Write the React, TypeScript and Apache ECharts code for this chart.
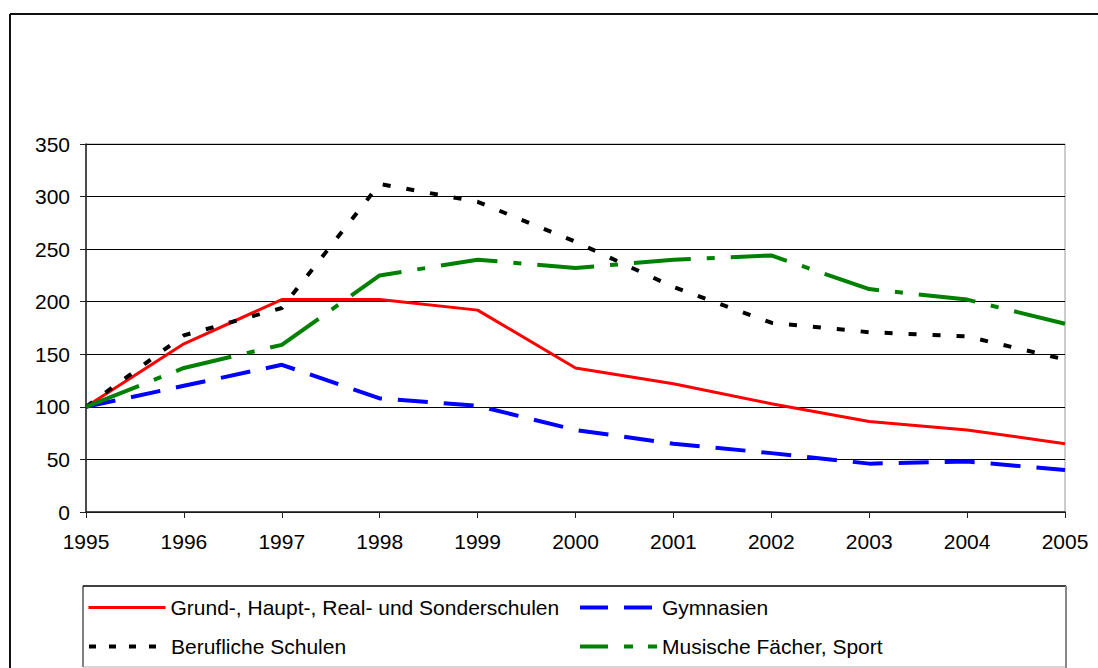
import React, { useEffect, useRef } from "react";
import * as echarts from "echarts";

const years = ["1995", "1996", "1997", "1998", "1999", "2000", "2001", "2002", "2003", "2004", "2005"];
const grundschulen = [100, 160, 202, 202, 192, 137, 122, 103, 86, 78, 65];
const gymnasien = [100, 120, 140, 108, 101, 78, 65, 56, 46, 48, 40];
const beruflich = [100, 168, 194, 312, 295, 257, 214, 180, 171, 167, 145];
const musisch = [100, 137, 159, 225, 240, 232, 240, 244, 212, 202, 179];

const names = [
  "Grund-, Haupt-, Real- und Sonderschulen",
  "Gymnasien",
  "Berufliche Schulen",
  "Musische Fächer, Sport",
];

const FONT = 'Arial, "Liberation Sans", sans-serif';

export default function App() {
  const ref = useRef<HTMLDivElement>(null);
  useEffect(() => {
    if (!ref.current) return;
    const chart = echarts.init(ref.current, null, { renderer: "svg" });
    const hiddenSymbol = {
      color: "transparent",
      borderColor: "transparent",
      borderWidth: 0,
      opacity: 0,
    };
    const legendBase = {
      orient: "horizontal",
      padding: 0,
      itemWidth: 77,
      itemHeight: 14,
      textStyle: { color: "#000", fontSize: 21, fontFamily: FONT },
      selectedMode: false,
      itemStyle: hiddenSymbol,
    };
    chart.setOption({
      animation: false,
      backgroundColor: "#fff",
      textStyle: { fontFamily: FONT },
      grid: {
        left: 86,
        top: 144,
        right: 33,
        bottom: 156,
        show: true,
        backgroundColor: "#fff",
        borderColor: "#999",
        borderWidth: 1,
      },
      legend: [
        {
          ...legendBase,
          left: 87,
          top: 597,
          data: [{ name: names[0], itemStyle: hiddenSymbol, lineStyle: { width: 3, type: "solid" } }],
        },
        {
          ...legendBase,
          left: 578,
          top: 597,
          data: [{ name: names[1], itemStyle: hiddenSymbol, lineStyle: { width: 4, type: [28, 16] } }],
        },
        {
          ...legendBase,
          left: 87,
          top: 636,
          data: [{ name: names[2], itemStyle: hiddenSymbol, lineStyle: { width: 4, type: [7, 13] } }],
        },
        {
          ...legendBase,
          left: 578,
          top: 636,
          data: [{ name: names[3], itemStyle: hiddenSymbol, lineStyle: { width: 4, type: [28, 16, 9, 15] } }],
        },
      ],
      xAxis: {
        type: "category",
        data: years,
        boundaryGap: false,
        axisLine: { show: true, lineStyle: { color: "#222", width: 1.5 } },
        axisTick: { show: true, length: 6, lineStyle: { color: "#222" } },
        axisLabel: { color: "#000", fontSize: 21, fontFamily: FONT, margin: 19 },
        splitLine: { show: false },
      },
      yAxis: {
        type: "value",
        min: 0,
        max: 350,
        interval: 50,
        axisLine: { show: true, lineStyle: { color: "#222", width: 1.5 } },
        axisTick: { show: true, length: 6, lineStyle: { color: "#222" } },
        axisLabel: { color: "#000", fontSize: 21, fontFamily: FONT, margin: 16 },
        splitLine: { show: true, lineStyle: { color: "#000", width: 1 } },
      },
      series: [
        {
          name: names[0],
          type: "line",
          data: grundschulen,
          symbol: "none",
          color: "#ff0000",
          lineStyle: { color: "#ff0000", width: 3 },
        },
        {
          name: names[1],
          type: "line",
          data: gymnasien,
          symbol: "none",
          color: "#0000ff",
          lineStyle: { color: "#0000ff", width: 4, type: [30, 16] },
        },
        {
          name: names[2],
          type: "line",
          data: beruflich,
          symbol: "none",
          color: "#000000",
          lineStyle: { color: "#000000", width: 4, type: [8, 16] },
        },
        {
          name: names[3],
          type: "line",
          data: musisch,
          symbol: "none",
          color: "#008000",
          lineStyle: { color: "#008000", width: 4, type: [57, 16, 8, 16] },
        },
      ],
      graphic: [
        {
          type: "line",
          shape: { x1: 10, y1: 14, x2: 1100, y2: 14 },
          style: { stroke: "#111", lineWidth: 2 },
          silent: true,
        },
        {
          type: "line",
          shape: { x1: 10, y1: 14, x2: 10, y2: 670 },
          style: { stroke: "#111", lineWidth: 2 },
          silent: true,
        },
        {
          type: "line",
          shape: { x1: 83, y1: 586, x2: 1066, y2: 586 },
          style: { stroke: "#000", lineWidth: 1.5 },
          silent: true,
        },
        {
          type: "line",
          shape: { x1: 83, y1: 586, x2: 83, y2: 667 },
          style: { stroke: "#000", lineWidth: 1 },
          silent: true,
        },
        {
          type: "line",
          shape: { x1: 1066, y1: 586, x2: 1066, y2: 668 },
          style: { stroke: "#888", lineWidth: 2 },
          silent: true,
        },
        {
          type: "line",
          shape: { x1: 83, y1: 667, x2: 1066, y2: 667 },
          style: { stroke: "#aaa", lineWidth: 1 },
          silent: true,
        },
      ],
    });
    return () => chart.dispose();
  }, []);
  return (
    <div
      ref={ref}
      style={{ position: "fixed", left: 0, top: 0, width: 1098, height: 668, background: "#fff" }}
    />
  );
}
